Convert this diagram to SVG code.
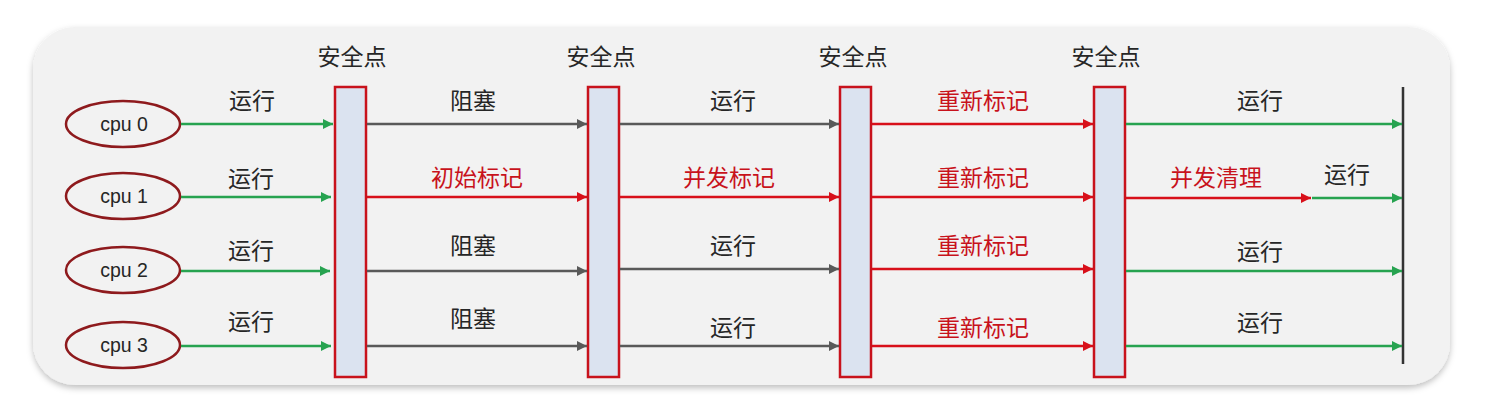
<svg xmlns="http://www.w3.org/2000/svg" width="1499" height="414" viewBox="0 0 1499 414">
<style>
.cjk{font-family:"Liberation Sans","Noto Sans CJK SC",sans-serif;font-size:23px;text-anchor:middle}
.dk{fill:#262626}
.rd{fill:#c8121c}
.cpu{font-family:"Liberation Sans",Arial,sans-serif;font-size:19.5px;fill:#262626;text-anchor:middle}
.ell{fill:none;stroke:#8e1a1d;stroke-width:2.5}
.bar{fill:#dbe3f0;stroke:#c8121c;stroke-width:2.5}
.g{stroke:#27a350;stroke-width:2.5;fill:none}
.r{stroke:#d8101a;stroke-width:2.5;fill:none}
.k{stroke:#595959;stroke-width:2.5;fill:none}
</style>
<defs>
<filter id="sh" x="-5%" y="-5%" width="110%" height="115%"><feDropShadow dx="0" dy="3" stdDeviation="3" flood-color="#000" flood-opacity="0.25"/></filter>
<marker id="ag" viewBox="0 0 10 10" refX="10" refY="5" markerWidth="4.2" markerHeight="4" orient="auto" markerUnits="strokeWidth"><path d="M0,0 L10,5 L0,10z" fill="#27a350"/></marker>
<marker id="ar" viewBox="0 0 10 10" refX="10" refY="5" markerWidth="4.2" markerHeight="4" orient="auto" markerUnits="strokeWidth"><path d="M0,0 L10,5 L0,10z" fill="#d8101a"/></marker>
<marker id="ak" viewBox="0 0 10 10" refX="10" refY="5" markerWidth="4.2" markerHeight="4" orient="auto" markerUnits="strokeWidth"><path d="M0,0 L10,5 L0,10z" fill="#595959"/></marker>
</defs>
<rect width="1499" height="414" fill="#ffffff"/>
<rect x="33" y="27" width="1417" height="358" rx="42" fill="#f2f2f2" filter="url(#sh)"/>

<g id="cpu0"><ellipse class="ell" cx="123" cy="124" rx="57" ry="23"/><text class="cpu" x="124" y="131">cpu 0</text></g>
<g id="cpu1"><ellipse class="ell" cx="123" cy="196" rx="57" ry="23"/><text class="cpu" x="124" y="203">cpu 1</text></g>
<g id="cpu2"><ellipse class="ell" cx="123" cy="270" rx="57" ry="23"/><text class="cpu" x="124" y="277">cpu 2</text></g>
<g id="cpu3"><ellipse class="ell" cx="123" cy="345" rx="57" ry="23"/><text class="cpu" x="124" y="352">cpu 3</text></g>

<g id="sp1"><text class="cjk dk" x="352" y="65">安全点</text><rect class="bar" x="335" y="87" width="31" height="290"/></g>
<g id="sp2"><text class="cjk dk" x="601" y="65">安全点</text><rect class="bar" x="588" y="87" width="31" height="290"/></g>
<g id="sp3"><text class="cjk dk" x="853" y="65">安全点</text><rect class="bar" x="840" y="87" width="31" height="290"/></g>
<g id="sp4"><text class="cjk dk" x="1106" y="65">安全点</text><rect class="bar" x="1094" y="87" width="31" height="290"/></g>
<g id="end"><line x1="1403" y1="87" x2="1403" y2="364" stroke="#333" stroke-width="2.5"/></g>

<g id="connectors">
<line class="g" x1="181" y1="124" x2="333" y2="124" marker-end="url(#ag)"/>
<line class="g" x1="181" y1="197" x2="331" y2="197" marker-end="url(#ag)"/>
<line class="g" x1="181" y1="271" x2="330" y2="271" marker-end="url(#ag)"/>
<line class="g" x1="181" y1="346" x2="331" y2="346" marker-end="url(#ag)"/>

<line class="k" x1="367" y1="124" x2="587" y2="124" marker-end="url(#ak)"/>
<line class="r" x1="367" y1="197" x2="587" y2="197" marker-end="url(#ar)"/>
<line class="k" x1="367" y1="271" x2="587" y2="271" marker-end="url(#ak)"/>
<line class="k" x1="367" y1="346" x2="587" y2="346" marker-end="url(#ak)"/>

<line class="k" x1="620" y1="124" x2="839" y2="124" marker-end="url(#ak)"/>
<line class="r" x1="620" y1="197" x2="839" y2="197" marker-end="url(#ar)"/>
<line class="k" x1="620" y1="269" x2="839" y2="269" marker-end="url(#ak)"/>
<line class="k" x1="620" y1="346" x2="839" y2="346" marker-end="url(#ak)"/>

<line class="r" x1="872" y1="124" x2="1093" y2="124" marker-end="url(#ar)"/>
<line class="r" x1="872" y1="197" x2="1093" y2="197" marker-end="url(#ar)"/>
<line class="r" x1="872" y1="269" x2="1093" y2="269" marker-end="url(#ar)"/>
<line class="r" x1="872" y1="346" x2="1093" y2="346" marker-end="url(#ar)"/>

<line class="g" x1="1126" y1="124" x2="1402" y2="124" marker-end="url(#ag)"/>
<line class="r" x1="1126" y1="198" x2="1311" y2="198" marker-end="url(#ar)"/>
<line class="g" x1="1312" y1="198" x2="1402" y2="198" marker-end="url(#ag)"/>
<line class="g" x1="1126" y1="271" x2="1402" y2="271" marker-end="url(#ag)"/>
<line class="g" x1="1126" y1="346" x2="1402" y2="346" marker-end="url(#ag)"/>

<text class="cjk dk" x="252" y="109">运行</text>
<text class="cjk dk" x="251" y="187">运行</text>
<text class="cjk dk" x="251" y="259">运行</text>
<text class="cjk dk" x="251" y="330">运行</text>

<text class="cjk dk" x="473" y="109">阻塞</text>
<text class="cjk rd" x="477" y="186">初始标记</text>
<text class="cjk dk" x="473" y="254">阻塞</text>
<text class="cjk dk" x="473" y="327">阻塞</text>

<text class="cjk dk" x="733" y="109">运行</text>
<text class="cjk rd" x="729" y="186">并发标记</text>
<text class="cjk dk" x="733" y="254">运行</text>
<text class="cjk dk" x="733" y="336">运行</text>

<text class="cjk rd" x="983" y="109">重新标记</text>
<text class="cjk rd" x="983" y="186">重新标记</text>
<text class="cjk rd" x="983" y="254">重新标记</text>
<text class="cjk rd" x="983" y="336">重新标记</text>

<text class="cjk dk" x="1260" y="109">运行</text>
<text class="cjk rd" x="1216" y="186">并发清理</text>
<text class="cjk dk" x="1347" y="183">运行</text>
<text class="cjk dk" x="1260" y="260">运行</text>
<text class="cjk dk" x="1260" y="331">运行</text>
</g>
</svg>
